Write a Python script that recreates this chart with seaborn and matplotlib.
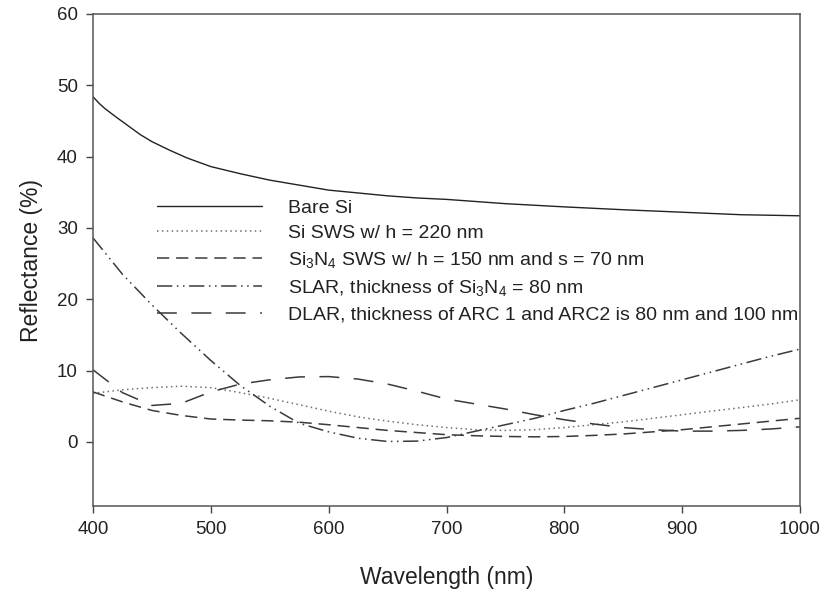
import numpy as np
import pandas as pd
import matplotlib
matplotlib.use("Agg")
import matplotlib.pyplot as plt
import seaborn as sns

# Wavelength grid (nm) and reflectance (%) of each structure
wavelength = [400, 425, 450, 475, 500, 525, 550, 575, 600, 625, 650, 675, 700,
              725, 750, 775, 800, 825, 850, 875, 900, 925, 950, 975, 1000]

# Bare Si is sampled more finely where it bends sharply
bare_si_wavelength = [400, 405, 410, 420, 430, 440, 450, 465, 480, 500, 525, 550, 575, 600,
                      625, 650, 675, 700, 750, 800, 850, 900, 950, 1000]
bare_si = [48.4, 47.5, 46.75, 45.5, 44.3, 43.1, 42.1, 40.9, 39.8, 38.6, 37.6, 36.7, 36.0, 35.3,
           34.9, 34.5, 34.2, 34.0, 33.4, 32.95, 32.55, 32.2, 31.85, 31.7]

si_sws = [6.8, 7.3, 7.6, 7.8, 7.6, 6.9, 6.1, 5.2, 4.3, 3.5, 2.9, 2.4, 2.0,
          1.7, 1.6, 1.7, 2.0, 2.4, 2.8, 3.3, 3.8, 4.3, 4.8, 5.3, 5.9]

si3n4_sws = [7.0, 5.6, 4.4, 3.7, 3.2, 3.05, 2.95, 2.75, 2.4, 2.0, 1.6, 1.3, 1.0,
             0.85, 0.75, 0.7, 0.75, 0.9, 1.1, 1.4, 1.7, 2.1, 2.5, 2.9, 3.3]

slar = [28.6, 23.5, 19.2, 15.2, 11.4, 7.9, 5.0, 2.6, 1.4, 0.5, 0.05, 0.1, 0.6,
        1.5, 2.4, 3.3, 4.4, 5.4, 6.5, 7.6, 8.7, 9.8, 10.9, 12.0, 13.0]

dlar = [10.1, 6.9, 5.1, 5.4, 7.0, 8.1, 8.7, 9.1, 9.15, 8.8, 8.1, 7.1, 6.0,
        5.3, 4.6, 3.8, 3.1, 2.5, 2.0, 1.7, 1.5, 1.5, 1.6, 1.8, 2.1]

labels = [
    "Bare Si",
    "Si SWS w/ h = 220 nm",
    "Si$_3$N$_4$ SWS w/ h = 150 nm and s = 70 nm",
    "SLAR, thickness of Si$_3$N$_4$ = 80 nm",
    "DLAR, thickness of ARC 1 and ARC2 is 80 nm and 100 nm",
]
series_x = [bare_si_wavelength, wavelength, wavelength, wavelength, wavelength]
series_values = [bare_si, si_sws, si3n4_sws, slar, dlar]

x_ticks = [400, 500, 600, 700, 800, 900, 1000]
y_ticks = [0, 10, 20, 30, 40, 50, 60]

df = pd.concat(
    [pd.DataFrame({"Wavelength": xs, "Reflectance": vals, "series": lab})
     for lab, xs, vals in zip(labels, series_x, series_values)],
    ignore_index=True,
)

sns.set_style("ticks")
plt.rcParams["font.family"] = ["Liberation Sans", "DejaVu Sans"]
plt.rcParams["mathtext.default"] = "regular"

styles = {
    labels[0]: dict(color="#222222", linestyle="-", lw=1.0),
    labels[1]: dict(color="#707070", linestyle=(0, (1.0, 2.2)), lw=1.1),
    labels[2]: dict(color="#3a3a3a", linestyle=(0, (8.0, 4.5)), lw=1.1),
    labels[3]: dict(color="#3a3a3a", linestyle=(0, (10, 3, 1, 3, 1, 3)), lw=1.1),
    labels[4]: dict(color="#3a3a3a", linestyle=(0, (13, 9.5)), lw=1.1),
}

fig = plt.figure(figsize=(8.24, 5.92), dpi=100)
ax = fig.add_axes([93 / 824, 86 / 592, 707 / 824, 492 / 592])

for lab in labels:
    sub = df[df["series"] == lab]
    sns.lineplot(data=sub, x="Wavelength", y="Reflectance", ax=ax,
                 label=lab, **styles[lab])

ax.set_xlim(400, 1000)
ax.set_ylim(-9, 60)
ax.set_xticks(x_ticks)
ax.set_yticks(y_ticks)
ax.tick_params(axis="both", direction="out", length=5, width=1.0,
               colors="#444444", labelsize=13.5, labelcolor="#222222", pad=6)
for sp in ax.spines.values():
    sp.set_visible(True)
    sp.set_color("#555555")
    sp.set_linewidth(1.1)

ax.set_xlabel("Wavelength (nm)", fontsize=16.5, color="#222222", labelpad=20)
ax.set_ylabel("Reflectance (%)", fontsize=16.5, color="#222222", labelpad=10)

ax.legend(loc="upper left", bbox_to_anchor=(0.0905, 0.624), frameon=False,
          fontsize=14, handlelength=5.4, handletextpad=1.35,
          labelspacing=0.41, borderpad=0, borderaxespad=0,
          labelcolor="#222222")

fig.savefig("out.png", dpi=100)
